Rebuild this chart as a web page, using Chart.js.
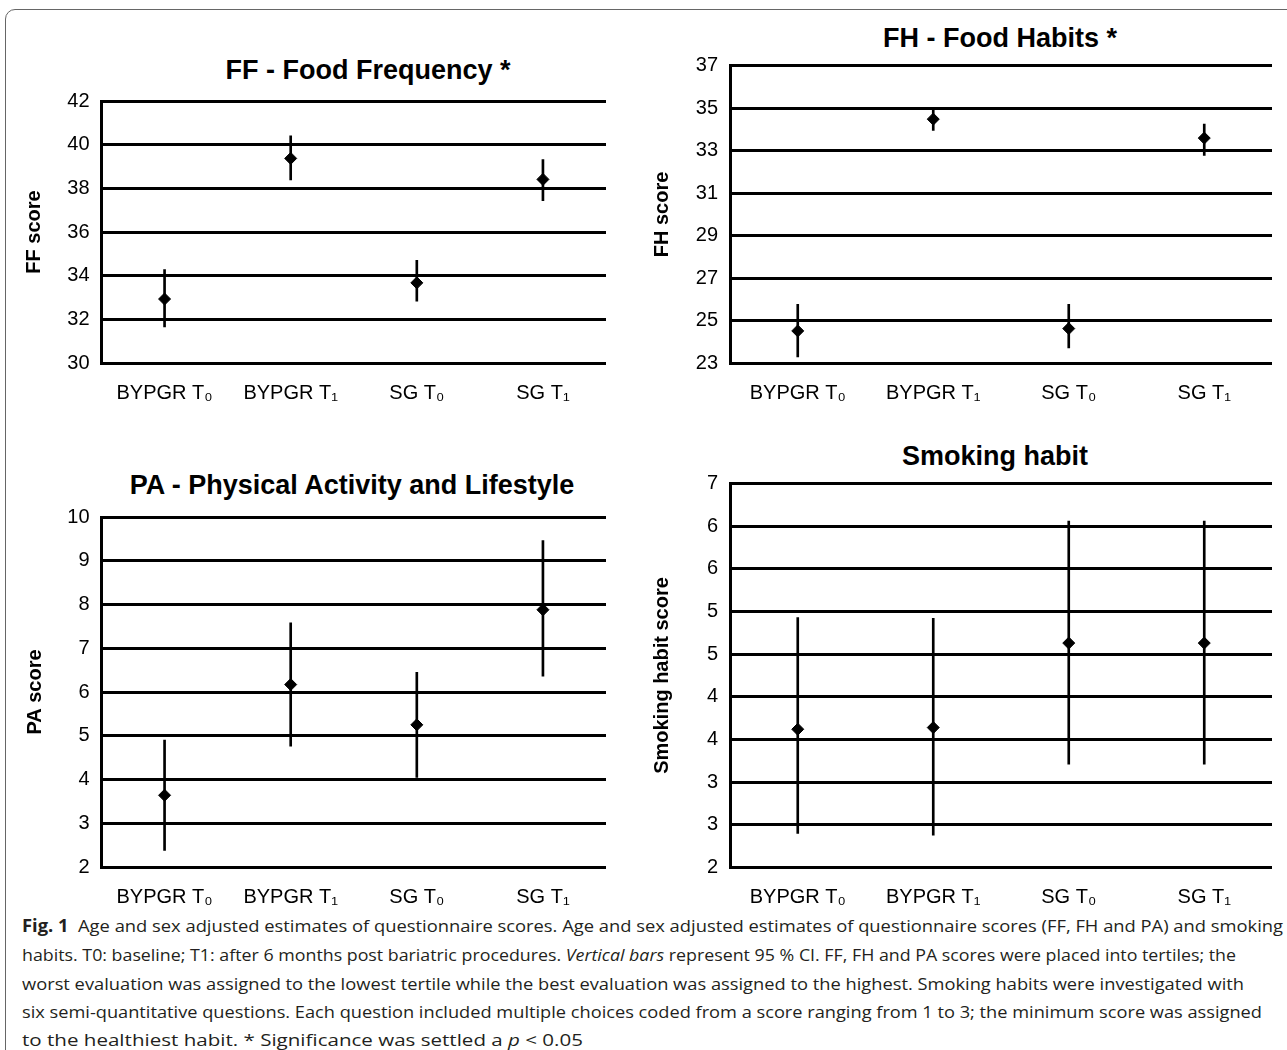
<!DOCTYPE html>
<html>
<head>
<meta charset="utf-8">
<title>Fig. 1</title>
<script src="https://cdn.jsdelivr.net/npm/chart.js@4.4.1/dist/chart.umd.min.js"></script>
<style>
  body { margin: 0; background: #fff; width: 1287px; height: 1050px; overflow: hidden; position: relative; }
  .frame { position: absolute; left: 5px; top: 9px; width: 1292px; height: 1080px; border: 1px solid #666; border-radius: 10px; box-sizing: border-box; }
  canvas { position: absolute; }
  .title { position: absolute; font: bold 27px "Liberation Sans", Arial, sans-serif; white-space: nowrap; transform: translate(-50%, -50%); color: #000; }
  .cap { position: absolute; left: 22px; font-size: 17px; font-family: "Open Sans", "Noto Sans", sans-serif; line-height: 28px; white-space: nowrap; color: #231f20; transform-origin: 0 50%; }
</style>
</head>
<body>
<div class="frame"></div>

<div class="title" style="left:368px; top:70px;">FF - Food Frequency *</div>
<div class="title" style="left:1000px; top:38px;">FH - Food Habits *</div>
<div class="title" style="left:352px; top:485px;">PA - Physical Activity and Lifestyle</div>
<div class="title" style="left:995px; top:456px;">Smoking habit</div>

<canvas id="ff" width="640" height="350" style="left:0; top:70px;"></canvas>
<canvas id="fh" width="647" height="385" style="left:640px; top:35px;"></canvas>
<canvas id="pa" width="640" height="423" style="left:0; top:487px;"></canvas>
<canvas id="sm" width="647" height="457" style="left:640px; top:453px;"></canvas>

<div class="cap" data-w="1261" style="top:912px;"><b>Fig. 1</b>&nbsp; Age and sex adjusted estimates of questionnaire scores. Age and sex adjusted estimates of questionnaire scores (FF, FH and PA) and smoking</div>
<div class="cap" data-w="1214" style="top:941px;">habits. T0: baseline; T1: after 6 months post bariatric procedures. <i>Vertical bars</i> represent 95 % CI. FF, FH and PA scores were placed into tertiles; the</div>
<div class="cap" data-w="1222" style="top:970px;">worst evaluation was assigned to the lowest tertile while the best evaluation was assigned to the highest. Smoking habits were investigated with</div>
<div class="cap" data-w="1240" style="top:998px;">six semi-quantitative questions. Each question included multiple choices coded from a score ranging from 1 to 3; the minimum score was assigned</div>
<div class="cap" data-w="561" style="top:1026px;">to the healthiest habit. * Significance was settled a <i>p</i> &lt; 0.05</div>

<script>
const categories = ["BYPGR T₀", "BYPGR T₁", "SG T₀", "SG T₁"];

// FF - Food Frequency
const ffMean = [32.93, 39.37, 33.67, 38.41];
const ffLow  = [31.65, 38.38, 32.83, 37.44];
const ffHigh = [34.28, 40.40, 34.70, 39.32];

// FH - Food Habits
const fhMean = [24.53, 34.48, 24.64, 33.59];
const fhLow  = [23.31, 33.95, 23.73, 32.77];
const fhHigh = [25.78, 35.04, 25.78, 34.25];

// PA - Physical Activity and Lifestyle
const paMean = [3.64, 6.17, 5.25, 7.88];
const paLow  = [2.38, 4.76, 4.05, 6.36];
const paHigh = [4.90, 7.58, 6.45, 9.46];

// Smoking habit
const smMean = [3.62, 3.64, 4.63, 4.63];
const smLow  = [2.40, 2.38, 3.21, 3.21];
const smHigh = [4.93, 4.92, 6.06, 6.06];
// the original axis prints rounded values on a 0.5 step
const smTickLabels = ["2", "3", "3", "4", "4", "5", "5", "6", "6", "7"];

const font = "'Liberation Sans', Arial, sans-serif";

function makeChart(id, o) {
  const ctx = document.getElementById(id).getContext("2d");
  return new Chart(ctx, {
    type: "bar",
    data: {
      labels: categories,
      datasets: [
        {
          type: "bar",
          data: o.low.map((l, i) => [l, o.high[i]]),
          backgroundColor: "#000",
          borderWidth: 0,
          barThickness: 2,
          order: 2,
        },
        {
          type: "line",
          data: o.mean,
          showLine: false,
          pointStyle: "rectRot",
          pointRadius: 6,
          pointBorderWidth: 1,
          pointBackgroundColor: "#000",
          pointBorderColor: "#000",
          order: 1,
        },
      ],
    },
    options: {
      responsive: false,
      animation: false,
      layout: { padding: { top: o.padTop, right: o.padRight, bottom: 0, left: 0 } },
      plugins: { legend: { display: false }, tooltip: { enabled: false } },
      scales: {
        x: {
          grid: { display: false },
          border: { display: false },
          ticks: { color: "#000", font: { family: font, size: 20 }, padding: 10, maxRotation: 0 },
          afterFit: (s) => { s.height = o.xHeight; },
        },
        y: {
          min: o.min,
          max: o.max,
          grid: { color: "#000", lineWidth: 3, drawTicks: false },
          border: { display: true, color: "#000", width: 3 },
          ticks: {
            stepSize: o.step,
            color: "#000",
            font: { family: font, size: 20 },
            padding: 12,
            callback: o.tickLabels ? (v, i) => o.tickLabels[i] : (v) => v,
          },
          title: {
            display: true,
            text: o.yTitle,
            color: "#000",
            font: { family: font, size: 20, weight: "bold" },
            padding: { top: o.titlePad, bottom: 0 },
          },
          afterFit: (s) => { s.width = o.yWidth; },
        },
      },
    },
  });
}

makeChart("ff", { mean: ffMean, low: ffLow, high: ffHigh, min: 30, max: 42, step: 2,
  yTitle: "FF score", padTop: 31, padRight: 34, xHeight: 57, yWidth: 101.5, titlePad: 22 });
makeChart("fh", { mean: fhMean, low: fhLow, high: fhHigh, min: 23, max: 37, step: 2,
  yTitle: "FH score", padTop: 30.5, padRight: 15, xHeight: 56.5, yWidth: 90, titlePad: 10 });
makeChart("pa", { mean: paMean, low: paLow, high: paHigh, min: 2, max: 10, step: 1,
  yTitle: "PA score", padTop: 30, padRight: 34, xHeight: 43, yWidth: 101.5, titlePad: 23 });
makeChart("sm", { mean: smMean, low: smLow, high: smHigh, min: 2, max: 6.5, step: 0.5,
  tickLabels: smTickLabels, yTitle: "Smoking habit score", padTop: 30.5, padRight: 15,
  xHeight: 42.5, yWidth: 90, titlePad: 10 });

// squeeze each caption line to the width it has in the original
document.querySelectorAll(".cap").forEach((el) => {
  const w = el.getBoundingClientRect().width;
  el.style.transform = "scaleX(" + (+el.dataset.w / w) + ")";
});
</script>
</body>
</html>
